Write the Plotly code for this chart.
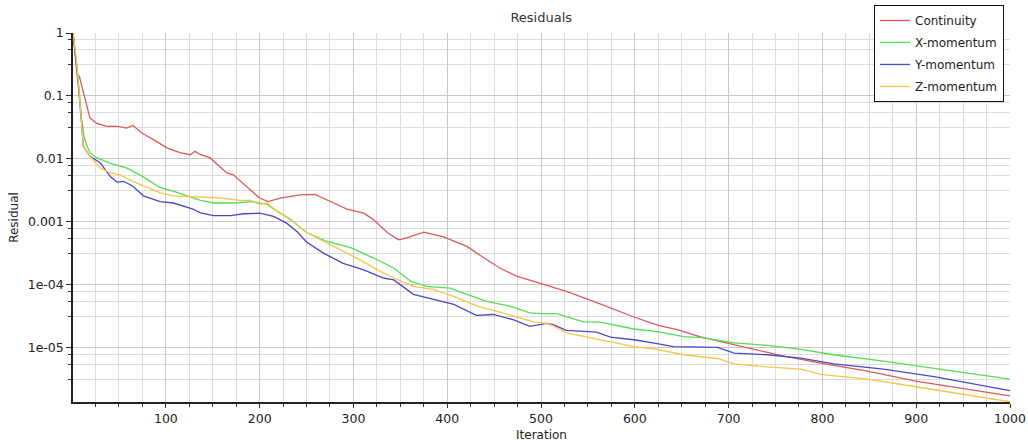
import plotly.graph_objects as go

# ---- Residual history (iteration, residual) ----
cont_iter = [1, 4, 6, 8, 10, 14, 19, 26, 37, 49, 58, 65, 74, 90, 101, 115, 126, 131, 137, 147,
             165, 172, 186, 200, 209, 222, 243, 259, 279, 293, 311, 321, 336, 348, 357, 375,
             396, 421, 439, 456, 474, 492, 506, 527, 556, 574, 599, 624, 645, 670, 698, 727,
             759, 798, 848, 901, 954, 1000]
cont_res = [1.0, 0.35, 0.22, 0.2, 0.15, 0.087, 0.045, 0.037, 0.033, 0.033, 0.031, 0.034, 0.026,
            0.019, 0.015, 0.0126, 0.0117, 0.0132, 0.0117, 0.0105, 0.006, 0.0056, 0.0037, 0.0024,
            0.0021, 0.0024, 0.0027, 0.00275, 0.002, 0.0016, 0.00138, 0.0011, 0.00068, 0.00052,
            0.00056, 0.00069, 0.00058, 0.00041, 0.00027, 0.000186, 0.000138, 0.000115, 0.0000977,
            0.000079, 0.000055, 0.000043, 0.000031, 0.000023, 0.0000195, 0.000015, 0.000012,
            0.0000093, 0.0000074, 0.00000575, 0.0000043, 0.00000295, 0.0000022, 0.00000174]

xmom_iter = [1, 4, 7, 10, 13, 16, 19, 26, 41, 58, 76, 94, 108, 126, 137, 151, 172, 193, 201, 208,
             218, 233, 250, 272, 297, 321, 343, 361, 378, 403, 421, 442, 467, 488, 499, 517, 545,
             563, 599, 624, 652, 674, 706, 741, 777, 812, 865, 919, 1000]
xmom_res = [1.0, 0.4, 0.15, 0.045, 0.022, 0.016, 0.0126, 0.0105, 0.0085, 0.0072, 0.0052, 0.0035,
            0.0031, 0.0025, 0.0022, 0.002, 0.002, 0.0021, 0.002, 0.0019, 0.0015, 0.0011, 0.00068,
            0.00049, 0.00039, 0.00027, 0.000186, 0.000115, 0.000095, 0.000089, 0.000071, 0.000055,
            0.000046, 0.000036, 0.000035, 0.000035, 0.000026, 0.0000257, 0.00002, 0.0000182,
            0.0000151, 0.0000145, 0.000012, 0.000011, 0.0000095, 0.0000078, 0.0000062, 0.0000048,
            0.0000032]

ymom_iter = [1, 4, 7, 10, 12, 19, 30, 41, 48, 55, 65, 76, 94, 108, 129, 137, 151, 169, 183, 200,
             215, 229, 240, 250, 268, 289, 311, 332, 343, 364, 385, 407, 431, 449, 471, 488, 506,
             513, 527, 559, 574, 599, 624, 641, 688, 706, 741, 777, 812, 865, 919, 1000]
ymom_res = [1.0, 0.4, 0.13, 0.04, 0.016, 0.011, 0.0087, 0.0052, 0.0043, 0.0044, 0.0037, 0.0026,
            0.0021, 0.002, 0.0016, 0.0014, 0.00126, 0.00126, 0.00135, 0.00138, 0.00123, 0.00095,
            0.0007, 0.00048, 0.00032, 0.00022, 0.000174, 0.000129, 0.00012, 0.000071, 0.00006,
            0.000049, 0.000033, 0.000034, 0.000028, 0.000022, 0.0000245, 0.0000234, 0.000019,
            0.0000178, 0.0000148, 0.0000135, 0.0000117, 0.0000105, 0.0000102, 0.0000083,
            0.0000078, 0.0000069, 0.0000056, 0.0000046, 0.0000035, 0.0000021]

zmom_iter = [1, 4, 7, 10, 12, 19, 30, 41, 51, 65, 80, 94, 108, 129, 137, 158, 179, 190, 200, 208,
             218, 236, 250, 265, 286, 307, 328, 343, 364, 385, 407, 432, 456, 478, 492, 506, 513,
             527, 563, 599, 624, 652, 688, 706, 741, 777, 798, 848, 901, 954, 1000]
zmom_res = [1.0, 0.45, 0.15, 0.04, 0.016, 0.011, 0.0072, 0.006, 0.0056, 0.0044, 0.0035, 0.0029,
            0.0026, 0.0025, 0.00245, 0.0024, 0.0022, 0.0022, 0.0019, 0.002, 0.0015, 0.001, 0.00068,
            0.00052, 0.00036, 0.00025, 0.000166, 0.000129, 0.000095, 0.000085, 0.000066, 0.000046,
            0.000037, 0.00003, 0.000026, 0.0000245, 0.0000224, 0.0000174, 0.0000135, 0.0000105,
            0.0000095, 0.0000078, 0.0000068, 0.0000056, 0.000005, 0.0000046, 0.0000038,
            0.0000032, 0.0000024, 0.0000018, 0.0000014]

series_names = ["Continuity", "X-momentum", "Y-momentum", "Z-momentum"]
series_colors = ["#dc5a5a", "#50e050", "#4a4ac8", "#f7c548"]

# ---- Axis ticks ----
x_major = [100, 200, 300, 400, 500, 600, 700, 800, 900, 1000]
x_minor = [v for v in range(25, 1000, 25) if v % 100 != 0]
y_major = [1, 0.1, 0.01, 0.001, 1e-4, 1e-5]
y_major_text = ["1", "0.1", "0.01", "0.001", "1e-04", "1e-05"]
y_minor_factors = [0.8, 0.54, 0.32]
y_minor = [d * f for d in y_major for f in y_minor_factors]

fig = go.Figure()
data = [(cont_iter, cont_res), (xmom_iter, xmom_res), (ymom_iter, ymom_res), (zmom_iter, zmom_res)]
for (xs, ys), name, color in zip(data, series_names, series_colors):
    fig.add_trace(go.Scatter(x=xs, y=ys, mode="lines", name=name, legendgroup=name,
                             line=dict(color=color, width=1.3)))

font_family = "DejaVu Sans"
fig.update_layout(
    width=1028, height=447,
    margin=dict(l=73, r=18, t=33, b=45, autoexpand=False),
    paper_bgcolor="white", plot_bgcolor="white",
    font=dict(family=font_family, size=12, color="#222222"),
    title=dict(text="Residuals", x=0.5265, xanchor="center", y=0.96, yanchor="middle",
               font=dict(family=font_family, size=13, color="#333333")),
    showlegend=True,
    legend=dict(x=0.9936, xanchor="right", y=1.076, yanchor="top",
                bgcolor="white", bordercolor="#111111", borderwidth=1,
                font=dict(family=font_family, size=12, color="#222222"),
                itemwidth=30, tracegroupgap=3, traceorder="grouped"),
    xaxis=dict(
        range=[1, 1000], tickmode="array", tickvals=x_major, automargin=False,
        ticks="outside", ticklen=4, tickcolor="#333333",
        showline=True, linecolor="#222222", linewidth=1.5,
        showgrid=True, gridcolor="#c8c8c8", gridwidth=1, zeroline=False,
        tickfont=dict(size=12.5),
        title=dict(text="Iteration", font=dict(size=12), standoff=6),
        minor=dict(tickmode="array", tickvals=x_minor, ticks="outside", ticklen=3,
                   tickcolor="#333333", showgrid=True, gridcolor="#dcdcdc", gridwidth=1),
    ),
    yaxis=dict(
        type="log", range=[-5.858, 0], tickmode="array", tickvals=y_major, ticktext=y_major_text,
        automargin=False,
        ticks="outside", ticklen=5, tickcolor="#333333",
        showline=True, linecolor="#222222", linewidth=1.5,
        showgrid=True, gridcolor="#c8c8c8", gridwidth=1, zeroline=False,
        tickfont=dict(size=12.5),
        title=dict(text="Residual", font=dict(size=12), standoff=6),
        minor=dict(tickmode="array", tickvals=y_minor, ticks="outside", ticklen=3,
                   tickcolor="#333333", showgrid=True, gridcolor="#dcdcdc", gridwidth=1),
    ),
)

fig.write_html("out.html")
